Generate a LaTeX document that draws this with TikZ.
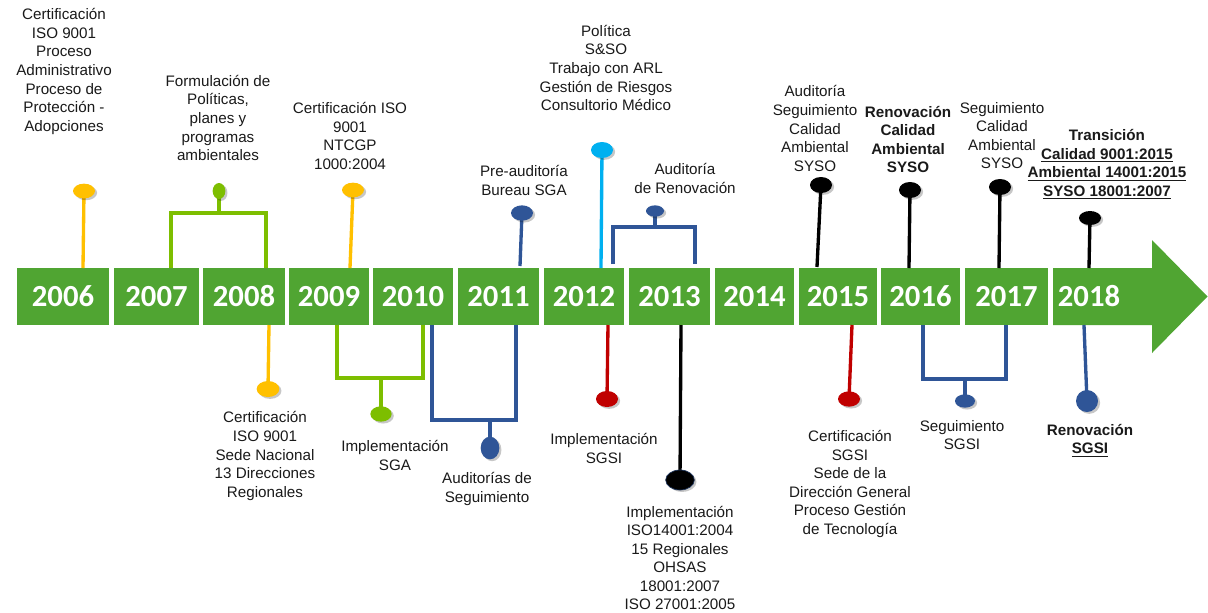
\documentclass[tikz,border=0pt]{standalone}
\usepackage{fontspec}
\setmainfont{Liberation Sans}
\newfontfamily\calib{Carlito}
\usetikzlibrary{shapes.geometric,shadows}
\definecolor{boxg}{HTML}{50A532}
\definecolor{cyel}{HTML}{FFC000}
\definecolor{cgrn}{HTML}{7DBE00}
\definecolor{cblu}{HTML}{2F5597}
\definecolor{ccya}{HTML}{00B0F0}
\definecolor{cred}{HTML}{C00000}
\definecolor{cblk}{HTML}{000000}
\definecolor{ctxt}{HTML}{1A1A1A}
\begin{document}
\begin{tikzpicture}[x=0.75pt,y=-0.75pt,
  yrbox/.style={fill=boxg,draw=none,inner sep=0pt,minimum height=42.75pt,text=white,
    font=\calib\bfseries\fontsize{23}{23}\selectfont},
  yrtext/.style={inner sep=0pt,text=white,font=\calib\bfseries\fontsize{23}{23}\selectfont},
  lbl/.style={align=center,inner sep=0pt,text=ctxt,font=\fontsize{11.4}{13.9}\selectfont},
  dot/.style={ellipse,inner sep=0pt,draw=none,
    drop shadow={shadow xshift=1.6pt,shadow yshift=-1.4pt,opacity=0.22,fill=black}},
  pin/.style={line width=2.5pt},
  brk/.style={line width=2.5pt,line join=miter}
]
\useasboundingbox[fill=white] (0,0) rectangle (1208,612);

% ---- year boxes
\node[yrbox,minimum width=69pt]    (y2006) at (63,296.5)   {2006};
\node[yrbox,minimum width=63.75pt] (y2007) at (156.5,296.5){2007};
\node[yrbox,minimum width=61.5pt]  (y2008) at (244,296.5)  {2008};
\node[yrbox,minimum width=60pt]    (y2009) at (329,296.5)  {2009};
\node[yrbox,minimum width=60pt]    (y2010) at (413,296.5)  {2010};
\node[yrbox,minimum width=60.75pt] (y2011) at (498.5,296.5){2011};
\node[yrbox,minimum width=60pt]    (y2012) at (584,296.5)  {2012};
\node[yrbox,minimum width=60.75pt] (y2013) at (669.5,296.5){2013};
\node[yrbox,minimum width=59.25pt] (y2014) at (754.5,296.5){2014};
\node[yrbox,minimum width=58.5pt]  (y2015) at (838,296.5)  {2015};
\node[yrbox,minimum width=59.25pt] (y2016) at (920.5,296.5){2016};
\node[yrbox,minimum width=62.25pt] (y2017) at (1006.5,296.5){2017};
\fill[boxg] (1053,268) -- (1152,268) -- (1152,240) -- (1207.5,296.5) -- (1152,353) -- (1152,325) -- (1053,325) -- cycle;
\node[yrtext] (y2018) at (1089,296.5) {2018};

% ---- top pins: connectors
\coordinate (t2j) at (219,213);
\coordinate (t6j) at (655,227);
\draw[pin,cyel] (84,191) -- (83,268);
\draw[brk,cgrn] (171,268) |- (t2j) -| (266,268);
\draw[pin,cgrn] (219,191) -- (t2j);
\draw[pin,cyel] (353,190) -- (350,268);
\draw[pin,cblu] (522,213) -- (520,266);
\draw[pin,ccya] (602,150) -- (601,268);
\draw[brk,cblu] (613,264) |- (t6j) -| (695,264);
\draw[pin,cblu] (655,211) -- (t6j);
\draw[pin,cblk] (821,185) -- (817,267);
\draw[pin,cblk] (910,190) -- (909,268);
\draw[pin,cblk] (1000,187) -- (999,268);
\draw[pin,cblk] (1090,218) -- (1089,268);

% ---- bottom pins: connectors
\coordinate (b2j) at (381,378);
\coordinate (b3j) at (490,420);
\coordinate (b7j) at (965,379);
\draw[pin,cyel] (269,325) -- (268,389);
\draw[brk,cgrn] (337,325) |- (b2j) -| (423,325);
\draw[pin,cgrn] (b2j) -- (381,414);
\draw[brk,cblu] (432,325) |- (b3j) -| (516,325);
\draw[pin,cblu] (b3j) -- (490,448);
\draw[pin,cred] (608,325) -- (607,399);
\draw[pin,cblk] (681,325) -- (680,480);
\draw[pin,cred] (852,325) -- (849,399);
\draw[brk,cblu] (923,325) |- (b7j) -| (1006,325);
\draw[pin,cblu] (b7j) -- (965,401);
\draw[pin,cblu] (1084,325) -- (1087,401);

% ---- top dots
\node[dot,fill=cyel,minimum width=16.5pt,minimum height=11pt] (t1) at (84,191) {};
\node[dot,fill=cgrn,minimum width=9.5pt,minimum height=12pt] (t2) at (219,191) {};
\node[dot,fill=cyel,minimum width=16.5pt,minimum height=11pt] (t3) at (353,190) {};
\node[dot,fill=cblu,minimum width=16.5pt,minimum height=11.5pt] (t4) at (522,213) {};
\node[dot,fill=ccya,minimum width=16.5pt,minimum height=12pt] (t5) at (602,150) {};
\node[dot,fill=cblu,minimum width=13.5pt,minimum height=8.5pt] (t6) at (655,211) {};
\node[dot,fill=cblk,minimum width=16.5pt,minimum height=12pt] (t7) at (821,185) {};
\node[dot,fill=cblk,minimum width=16.5pt,minimum height=12pt] (t8) at (910,190) {};
\node[dot,fill=cblk,minimum width=16.5pt,minimum height=12pt] (t9) at (1000,187) {};
\node[dot,fill=cblk,minimum width=16.5pt,minimum height=10.5pt] (t10) at (1090,218) {};

% ---- bottom dots
\node[dot,fill=cyel,minimum width=17pt,minimum height=12pt] (b1) at (268,389) {};
\node[dot,fill=cgrn,minimum width=16pt,minimum height=11.5pt] (b2) at (381,414) {};
\node[dot,fill=cblu,minimum width=14pt,minimum height=17pt] (b3) at (490,448) {};
\node[dot,fill=cred,minimum width=16.5pt,minimum height=12pt] (b4) at (607,399) {};
\node[dot,fill=cblk,draw=cblu!60!black,line width=0.5pt,minimum width=21.5pt,minimum height=15pt] (b5) at (680,480) {};
\node[dot,fill=cred,minimum width=16.5pt,minimum height=11.5pt] (b6) at (849,399) {};
\node[dot,fill=cblu,minimum width=15pt,minimum height=10pt] (b7) at (965,401) {};
\node[dot,fill=cblu,minimum width=16.5pt,minimum height=16.5pt] (b8) at (1087,401) {};

% ---- top labels
\node[lbl] (l1) at (64,71.5) {Certificación\\ISO 9001\\Proceso\\Administrativo\\Proceso de\\Protección -\\Adopciones};
\node[lbl] (l2) at (218,118) {Formulación de\\Políticas,\\planes y\\programas\\ambientales};
\node[lbl] (l3) at (350,136) {Certificación ISO\\9001\\NTCGP\\1000:2004};
\node[lbl] (l4) at (524,180.5) {Pre-auditoría\\Bureau SGA};
\node[lbl] (l5) at (606,68) {Política\\S\&SO\\Trabajo con ARL\\Gestión de Riesgos\\Consultorio Médico};
\node[lbl] (l6) at (685,178.5) {Auditoría\\de Renovación};
\node[lbl] (l7) at (815,128.5) {Auditoría\\Seguimiento\\Calidad\\Ambiental\\SYSO};
\node[lbl,font=\bfseries\fontsize{11.4}{13.9}\selectfont] (l8) at (908,139.5) {Renovación\\Calidad\\Ambiental\\SYSO};
\node[lbl] (l9) at (1002,135.5) {Seguimiento\\Calidad\\Ambiental\\SYSO};
\node[lbl,font=\bfseries\fontsize{11.4}{13.9}\selectfont] (l10) at (1107,164.5) {Transición\\\underline{Calidad 9001:2015}\\\underline{Ambiental 14001:2015}\\\underline{SYSO 18001:2007}};

% ---- bottom labels
\node[lbl] (m1) at (265,456) {Certificación\\ISO 9001\\Sede Nacional\\13 Direcciones\\Regionales};
\node[lbl] (m2) at (395,455.5) {Implementación\\SGA};
\node[lbl] (m3) at (487,489) {Auditorías de\\Seguimiento};
\node[lbl] (m4) at (604,448.5) {Implementación\\SGSI};
\node[lbl] (m5) at (680,558) {Implementación\\ISO14001:2004\\15 Regionales\\OHSAS\\18001:2007\\ISO 27001:2005};
\node[lbl] (m6) at (850,484) {Certificación\\SGSI\\Sede de la\\Dirección General\\Proceso Gestión\\de Tecnología};
\node[lbl] (m7) at (962,435) {Seguimiento\\SGSI};
\node[lbl,font=\bfseries\fontsize{11.4}{13.9}\selectfont] (m8) at (1090,440.5) {Renovación\\\underline{SGSI}};
\end{tikzpicture}
\end{document}
